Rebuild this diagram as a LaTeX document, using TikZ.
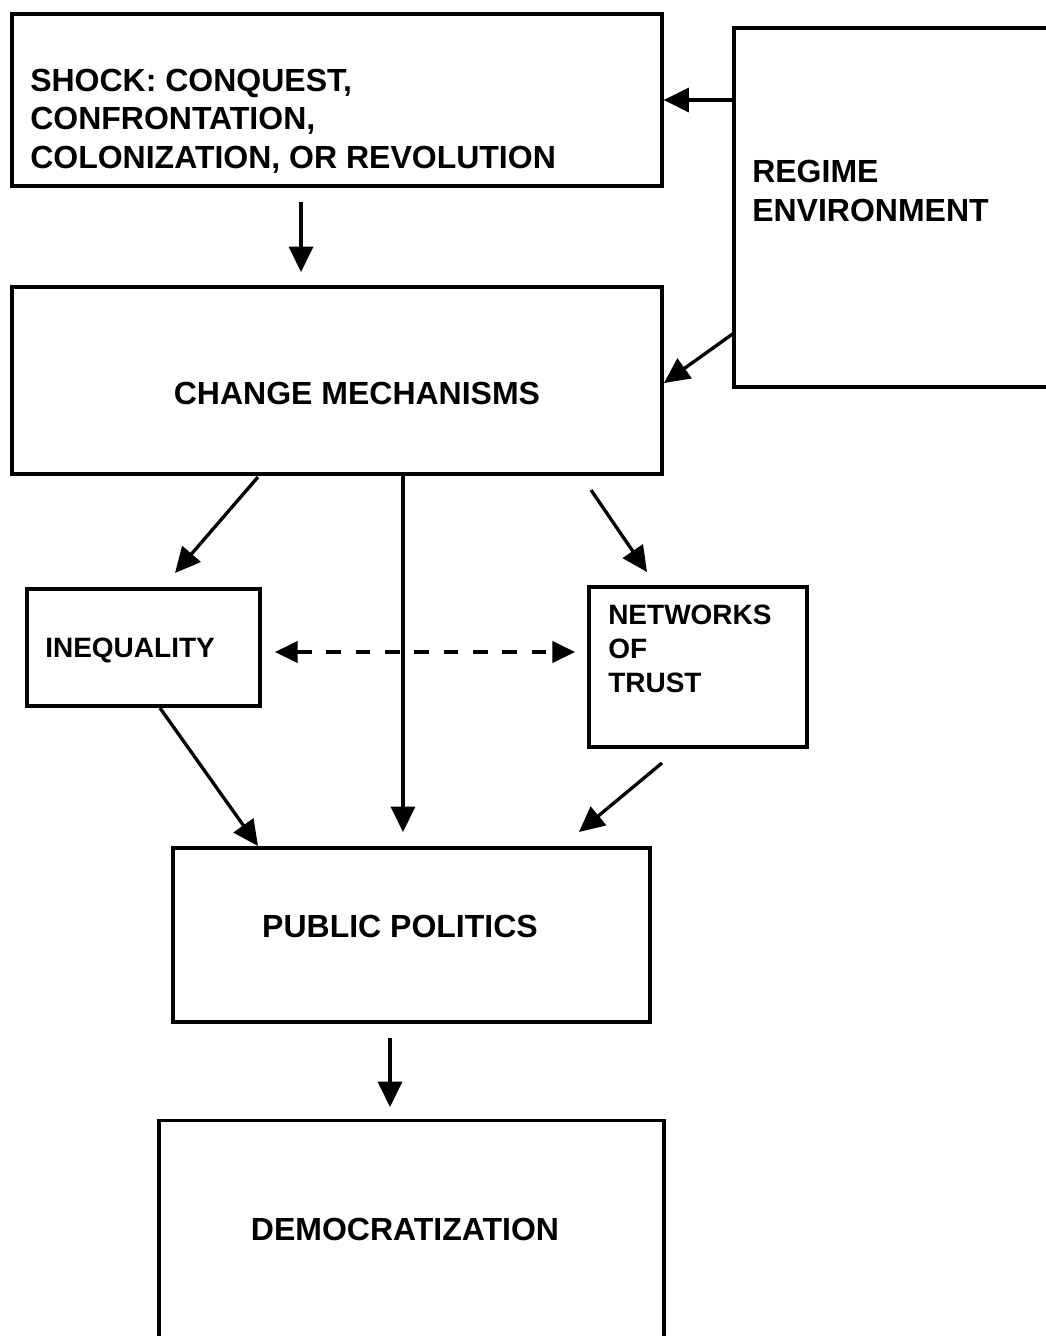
\documentclass[tikz,border=0pt]{standalone}
\usepackage{fontspec}
\setmainfont{Liberation Sans}
\usetikzlibrary{arrows.meta}
\begin{document}
\begin{tikzpicture}[x=0.75pt,y=-0.75pt,
  box/.style={draw,line width=2.4pt,inner sep=0pt,rectangle},
  big/.style={font=\fontsize{24}{29}\selectfont\bfseries,inner sep=0pt,align=left},
  small/.style={font=\fontsize{21}{25.5}\selectfont\bfseries,inner sep=0pt,align=left},
  arr/.style={line width=2.5pt,-{Triangle[length=19pt,width=18pt]}},
  darr/.style={line width=2.5pt,dash pattern=on 11pt off 11pt,{Triangle[length=17pt,width=16pt]}-{Triangle[length=17pt,width=16pt]}}]
\useasboundingbox (0,0) rectangle (1046,1336);
% boxes
\node[box,minimum width=650*0.75pt,minimum height=172*0.75pt] (shock) at (337,100) {};
\node[box,minimum width=340*0.75pt,minimum height=359*0.75pt] (regime) at (904,207.5) {};
\node[box,minimum width=650*0.75pt,minimum height=187*0.75pt] (change) at (337,380.5) {};
\node[box,minimum width=233*0.75pt,minimum height=117*0.75pt] (ineq) at (143.5,647.5) {};
\node[box,minimum width=218*0.75pt,minimum height=160*0.75pt] (net) at (698,667) {};
\node[box,minimum width=477*0.75pt,minimum height=174*0.75pt] (pp) at (411.5,935) {};
\node[box,minimum width=505*0.75pt,minimum height=239*0.75pt] (dem) at (411.5,1240) {};
% texts
\node[big,anchor=west] (shockt) at (30,121) {SHOCK: CONQUEST,\\CONFRONTATION,\\COLONIZATION, OR REVOLUTION};
\node[big,anchor=west] (regimet) at (752,191) {REGIME\\ENVIRONMENT};
\node[big] (changet) at (357,393) {CHANGE MECHANISMS};
\node[small,anchor=west] (ineqt) at (45,650) {INEQUALITY};
\node[small,anchor=west] (nett) at (608,649) {NETWORKS\\OF\\TRUST};
\node[big] (ppt) at (400,926) {PUBLIC POLITICS};
\node[big] (demt) at (405,1229) {DEMOCRATIZATION};
% connector ends
\coordinate (r2) at (734,333);
\coordinate (c2) at (664,383);
\coordinate (s1) at (301,202);
\coordinate (s2) at (301,272);
\coordinate (ci1) at (258,477);
\coordinate (ci2) at (175,573);
\coordinate (cp1) at (403,476);
\coordinate (cp2) at (403,832);
\coordinate (cn1) at (591,490);
\coordinate (cn2) at (647,572);
\coordinate (in1) at (275,652);
\coordinate (in2) at (575,652);
\coordinate (ip1) at (160,708);
\coordinate (ip2) at (258,846);
\coordinate (np1) at (662,763);
\coordinate (np2) at (579,832);
\coordinate (pd1) at (390,1038);
\coordinate (pd2) at (390,1107);
% connectors
\draw[arr] (regime.west |- shock.east) -- (shock.east);
\draw[arr] (r2) -- (c2);
\draw[arr] (s1) -- (s2);
\draw[arr] (ci1) -- (ci2);
\draw[arr] (cp1) -- (cp2);
\draw[arr] (cn1) -- (cn2);
\draw[darr] (in1) -- (in2);
\draw[arr] (ip1) -- (ip2);
\draw[arr] (np1) -- (np2);
\draw[arr] (pd1) -- (pd2);
\end{tikzpicture}
\end{document}
